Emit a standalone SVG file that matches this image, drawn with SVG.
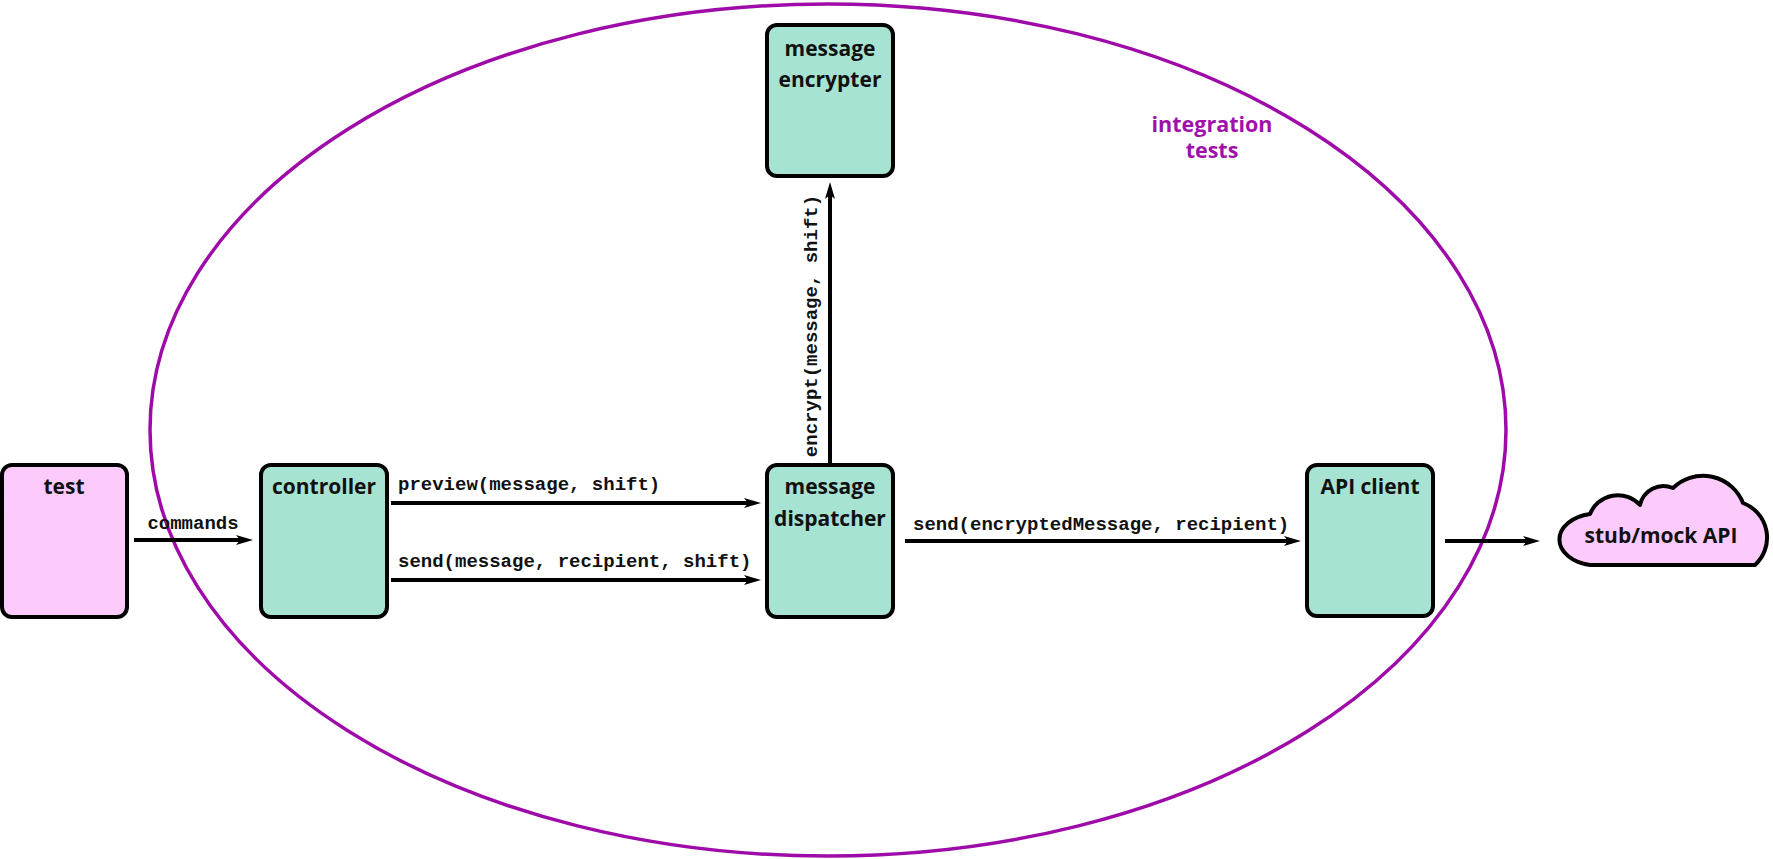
<svg xmlns="http://www.w3.org/2000/svg" width="1773" height="859" viewBox="0 0 1773 859">
<style>
.box{stroke:#000;stroke-width:4}
.teal{fill:#a6e3d2}
.pink{fill:#fccbfc}
.lbl{font-family:"Open Sans","Noto Sans",sans-serif;font-weight:bold;font-size:21px;fill:#111;text-anchor:middle}
.code{font-family:"Liberation Mono","Courier New",monospace;font-weight:bold;font-size:19px;fill:#111}
.conn{stroke:#000;stroke-width:4;fill:none;marker-end:url(#arr)}
</style>
<defs>
<marker id="arr" markerUnits="userSpaceOnUse" markerWidth="18" markerHeight="12" refX="9" refY="6" orient="auto">
<path d="M0,1 L17,6 L0,11 L4,6 z" fill="#000"/>
</marker>
</defs>
<rect width="1773" height="859" fill="#fff"/>
<g id="scope">
<ellipse cx="828" cy="430" rx="678" ry="426" fill="none" stroke="#9e0ba8" stroke-width="3.5"/>
<text x="1212" y="132" class="lbl" style="fill:#a010aa;font-size:21.5px">integration</text>
<text x="1212" y="158" class="lbl" style="fill:#a010aa;font-size:21.5px">tests</text>
</g>
<g id="connectors">
<line x1="134" y1="540" x2="245" y2="540" class="conn"/>
<text x="193" y="529" class="code" text-anchor="middle">commands</text>
<line x1="391" y1="503" x2="753" y2="503" class="conn"/>
<text x="398" y="490" class="code">preview(message, shift)</text>
<line x1="391" y1="580" x2="753" y2="580" class="conn"/>
<text x="398" y="567" class="code">send(message, recipient, shift)</text>
<line x1="830" y1="463" x2="830" y2="190" class="conn"/>
<text x="0" y="0" class="code" text-anchor="middle" transform="translate(817,326) rotate(-90)">encrypt(message, shift)</text>
<line x1="905" y1="541" x2="1293" y2="541" class="conn"/>
<text x="913" y="530" class="code">send(encryptedMessage, recipient)</text>
<line x1="1445" y1="541" x2="1532" y2="541" class="conn"/>
</g>
<g id="test">
<rect x="2" y="465" width="125" height="152" rx="10" class="box pink"/>
<text x="64" y="494" class="lbl">test</text>
</g>
<g id="controller">
<rect x="261" y="465" width="126" height="152" rx="10" class="box teal"/>
<text x="324" y="494" class="lbl">controller</text>
</g>
<g id="dispatcher">
<rect x="767" y="465" width="126" height="152" rx="10" class="box teal"/>
<text x="830" y="494" class="lbl">message</text>
<text x="830" y="526" class="lbl">dispatcher</text>
</g>
<g id="encrypter">
<rect x="767" y="25" width="126" height="151" rx="10" class="box teal"/>
<text x="830" y="56" class="lbl">message</text>
<text x="830" y="87" class="lbl">encrypter</text>
</g>
<g id="apiclient">
<rect x="1307" y="465" width="126" height="151" rx="10" class="box teal"/>
<text x="1370" y="494" class="lbl">API client</text>
</g>
<g id="stub">
<path d="M1590,565 A38,26 0 0 1 1590,514 A30,30 0 0 1 1640,505 A24,24 0 0 1 1673,488 A43,43 0 0 1 1743,503 A37,37 0 0 1 1755,565 Z" class="box pink" stroke-linejoin="round"/>
<text x="1661" y="543" class="lbl">stub/mock API</text>
</g>
</svg>
